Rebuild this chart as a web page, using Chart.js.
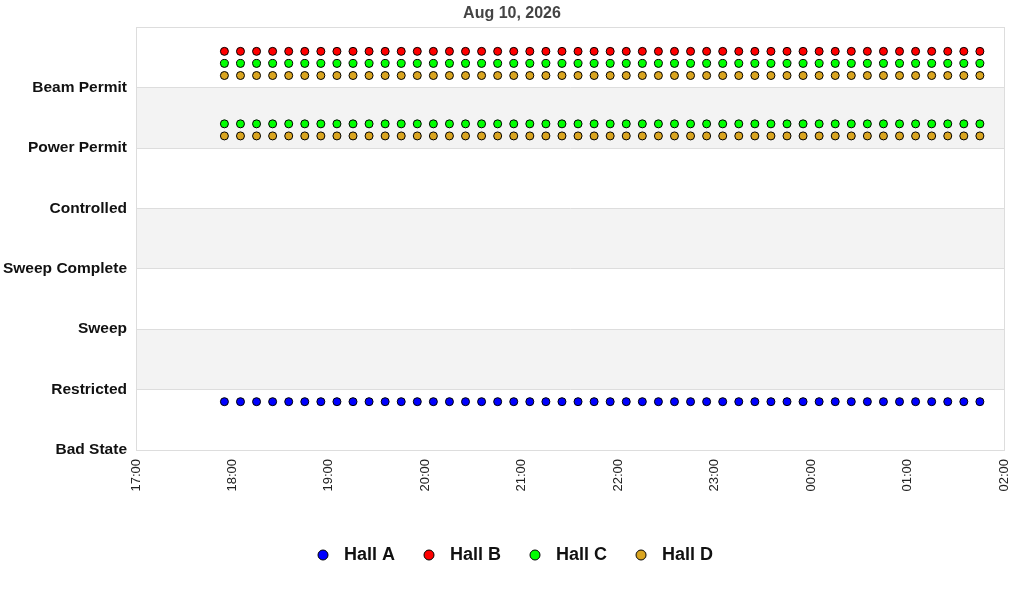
<!DOCTYPE html>
<html><head><meta charset="utf-8">
<script src="https://cdn.jsdelivr.net/npm/chart.js@4/dist/chart.umd.min.js"></script>
<style>html,body{margin:0;padding:0;background:#fff}#wrap{width:1024px;height:600px}</style>
</head><body><div id="wrap"><canvas id="c"></canvas></div>
<script>
const chartTitle = "Aug 10, 2026";
const stateLabels = ["Bad State","Restricted","Sweep","Sweep Complete","Controlled","Power Permit","Beam Permit"];
const xTickLabels = ["17:00","18:00","19:00","20:00","21:00","22:00","23:00","00:00","01:00","02:00"];
const sampleTimes = ["17:55","18:05","18:15","18:25","18:35","18:45","18:55","19:05","19:15","19:25","19:35","19:45",
"19:55","20:05","20:15","20:25","20:35","20:45","20:55","21:05","21:15","21:25","21:35","21:45",
"21:55","22:05","22:15","22:25","22:35","22:45","22:55","23:05","23:15","23:25","23:35","23:45",
"23:55","00:05","00:15","00:25","00:35","00:45","00:55","01:05","01:15","01:25","01:35","01:45"];
const hallA  = [0,0,0,0,0,0,0,0,0,0,0,0,0,0,0,0,0,0,0,0,0,0,0,0,0,0,0,0,0,0,0,0,0,0,0,0,0,0,0,0,0,0,0,0,0,0,0,0];
const hallB  = [6,6,6,6,6,6,6,6,6,6,6,6,6,6,6,6,6,6,6,6,6,6,6,6,6,6,6,6,6,6,6,6,6,6,6,6,6,6,6,6,6,6,6,6,6,6,6,6];
const hallC1 = [6,6,6,6,6,6,6,6,6,6,6,6,6,6,6,6,6,6,6,6,6,6,6,6,6,6,6,6,6,6,6,6,6,6,6,6,6,6,6,6,6,6,6,6,6,6,6,6];
const hallC2 = [5,5,5,5,5,5,5,5,5,5,5,5,5,5,5,5,5,5,5,5,5,5,5,5,5,5,5,5,5,5,5,5,5,5,5,5,5,5,5,5,5,5,5,5,5,5,5,5];
const hallD1 = [6,6,6,6,6,6,6,6,6,6,6,6,6,6,6,6,6,6,6,6,6,6,6,6,6,6,6,6,6,6,6,6,6,6,6,6,6,6,6,6,6,6,6,6,6,6,6,6];
const hallD2 = [5,5,5,5,5,5,5,5,5,5,5,5,5,5,5,5,5,5,5,5,5,5,5,5,5,5,5,5,5,5,5,5,5,5,5,5,5,5,5,5,5,5,5,5,5,5,5,5];

function toMin(t){const [h,m]=t.split(':').map(Number);let v=(h-17)*60+m;if(v<0)v+=1440;return v;}
function pts(arrs, off){const out=[];arrs.forEach(a=>a.forEach((s,i)=>out.push({x:toMin(sampleTimes[i]),y:s+off})));return out;}

const bands = {
  id:'bands',
  beforeDraw(chart){
    const {ctx, chartArea:ca, scales:{y}} = chart;
    ctx.save();
    ctx.fillStyle='#f3f3f3';
    [[1,2],[3,4],[5,6]].forEach(([a,b])=>{
      const y1=y.getPixelForValue(b), y2=y.getPixelForValue(a);
      ctx.fillRect(ca.left,y1,ca.right-ca.left,y2-y1);
    });
    ctx.restore();
  },
  afterDraw(chart){
    const {ctx, chartArea:ca} = chart;
    ctx.save();ctx.strokeStyle='#dddddd';ctx.lineWidth=1;
    ctx.strokeRect(Math.round(ca.left)+0.5,Math.round(ca.top)+0.5,Math.round(ca.right-ca.left),Math.round(ca.bottom-ca.top));
    ctx.restore();
  }
};

function legendDot(color){
  const c=document.createElement('canvas');
  c.width=24; c.height=12;
  const g=c.getContext('2d');
  g.beginPath(); g.arc(12,6,5,0,Math.PI*2);
  g.fillStyle=color; g.fill(); g.lineWidth=1; g.strokeStyle='#000'; g.stroke();
  return c;
}

function ds(label, data, color){
  return {label, data, showLine:false, pointStyle:'circle', pointRadius:4, pointHoverRadius:4,
    backgroundColor:color, borderColor:'#000', pointBorderWidth:1, borderWidth:1};
}

const FONT='Liberation Sans, Arial, sans-serif';
new Chart(document.getElementById('c'),{
  type:'scatter',
  plugins:[bands],
  data:{datasets:[
    ds('Hall A', pts([hallA],0.8), '#0000ff'),
    ds('Hall B', pts([hallB],0.6), '#ff0000'),
    ds('Hall C', pts([hallC1,hallC2],0.4), '#00ff00'),
    ds('Hall D', pts([hallD1,hallD2],0.2), '#daa520')
  ]},
  options:{
    responsive:true, maintainAspectRatio:false, animation:false,
    layout:{padding:{left:0,right:0,top:0,bottom:26}},
    plugins:{
      title:{display:true,text:chartTitle,color:'#444',font:{family:FONT,size:16,weight:'bold'},padding:{top:4,bottom:4}},
      legend:{position:'bottom',labels:{usePointStyle:true,boxHeight:12,pointStyleWidth:24,padding:22,color:'#111',
        font:{family:FONT,size:18,weight:'bold'},
        generateLabels(chart){
          return chart.data.datasets.map((d,i)=>({text:d.label,datasetIndex:i,fillStyle:d.backgroundColor,
            strokeStyle:'#000',lineWidth:1,pointStyle:legendDot(d.backgroundColor),hidden:false,fontColor:'#111'}));
        }}},
      tooltip:{enabled:false}
    },
    scales:{
      x:{type:'linear',min:0,max:540,
        grid:{display:false,drawTicks:false},border:{color:'#dddddd'},
        afterFit(s){s.height=74;s.paddingLeft=0;s.paddingRight=20;},
        afterBuildTicks(s){s.ticks=xTickLabels.map((l,i)=>({value:i*60}));},
        ticks:{minRotation:90,maxRotation:90,padding:9,color:'#222',autoSkip:false,
          font:{family:FONT,size:13},
          callback:(v)=>xTickLabels[Math.round(v/60)]}},
      y:{type:'linear',min:0,max:7,
        grid:{color:'#dddddd',drawTicks:false},border:{color:'#dddddd'},
        afterFit(s){s.width=136;},
        afterBuildTicks(s){s.ticks=[0,1,2,3,4,5,6,7].map(v=>({value:v}));},
        ticks:{padding:9,color:'#111',autoSkip:false,
          font:{family:FONT,size:15.5,weight:'bold'},
          callback:(v)=>stateLabels[v]!==undefined?stateLabels[v]:''}}
    }
  }
});
</script></body></html>
